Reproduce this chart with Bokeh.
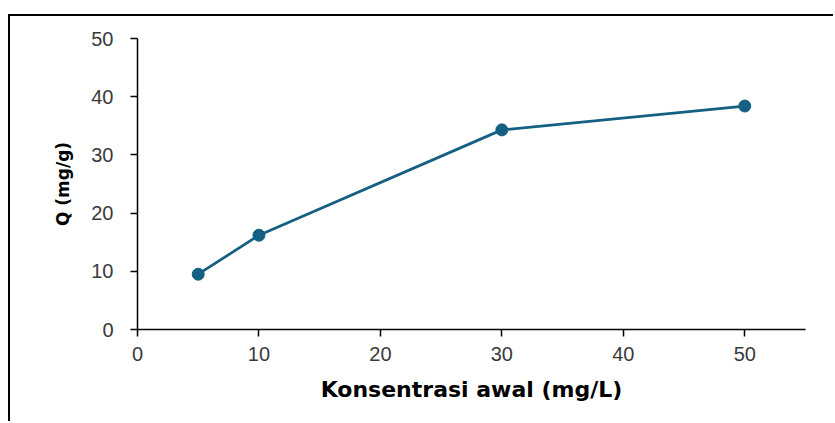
from bokeh.plotting import figure
from bokeh.models import Range1d, FixedTicker
from bokeh.embed import file_html
from bokeh.resources import INLINE

konsentrasi = [5, 10, 30, 50]
q_values = [9.5, 16.2, 34.3, 38.4]
x_ticks = [0, 10, 20, 30, 40, 50]
y_ticks = [0, 10, 20, 30, 40, 50]

p = figure(width=825, height=407, output_backend="svg", toolbar_location=None,
           x_range=Range1d(0, 55), y_range=Range1d(0, 50),
           min_border_left=127, min_border_right=30, min_border_top=22, min_border_bottom=94)
p.styles = {"position": "absolute", "left": "8px", "top": "14px",
            "border-top": "2px solid #000", "border-left": "2px solid #000"}

p.line(konsentrasi, q_values, line_color="#156082", line_width=2.75)
p.scatter(konsentrasi, q_values, size=12, fill_color="#156082", line_color="#156082")

p.outline_line_color = None
p.grid.visible = False
p.background_fill_color = "white"
p.border_fill_color = "white"

for ax, ticks in ((p.xaxis[0], x_ticks), (p.yaxis[0], y_ticks)):
    ax.ticker = FixedTicker(ticks=ticks)
    ax.axis_line_color = "#000000"
    ax.axis_line_width = 1.5
    ax.major_tick_line_color = "#000000"
    ax.major_tick_line_width = 1.5
    ax.major_tick_out = 7
    ax.major_tick_in = 0
    ax.minor_tick_out = 0
    ax.minor_tick_in = 0
    ax.major_label_text_font = "Liberation Sans"
    ax.major_label_text_font_size = "20px"
    ax.major_label_text_color = "#3a3a3a"
    ax.axis_label_text_font = "DejaVu Sans"
    ax.axis_label_text_font_style = "bold"
    ax.axis_label_text_color = "#000000"

p.xaxis.axis_label = "Konsentrasi awal (mg/L)"
p.yaxis.axis_label = "Q (mg/g)"
p.xaxis.axis_label_text_font_size = "22px"
p.yaxis.axis_label_text_font_size = "17px"
p.xaxis.major_label_standoff = 10
p.yaxis.major_label_standoff = 17
p.xaxis.axis_label_standoff = 13
p.yaxis.axis_label_standoff = 15

open("out.html", "w").write(file_html(p, INLINE))
